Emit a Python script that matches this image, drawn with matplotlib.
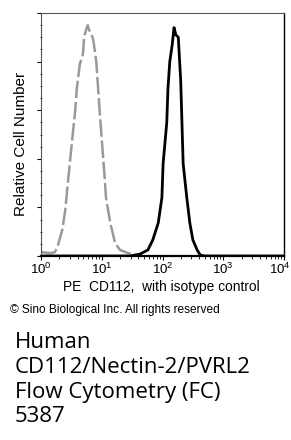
import numpy as np
import matplotlib
matplotlib.use('Agg')
import matplotlib.pyplot as plt
from matplotlib.ticker import LogLocator, MultipleLocator, NullFormatter

plt.rcParams['font.family'] = ['Liberation Sans', 'DejaVu Sans']
plt.rcParams['mathtext.fontset'] = 'custom'
plt.rcParams['mathtext.rm'] = 'Liberation Sans'
plt.rcParams['mathtext.it'] = 'Liberation Sans'

# isotype control (grey dashed): log10 fluorescence vs relative count
isoLog = [0.00, 0.15, 0.23, 0.28, 0.35, 0.40, 0.43, 0.48, 0.53, 0.56, 0.59, 0.64,
          0.69, 0.71, 0.74, 0.77, 0.79, 0.82, 0.86, 0.91, 0.94, 0.97, 1.00, 1.04,
          1.07, 1.14, 1.22, 1.30, 1.43, 1.55, 1.66]
isoVal = [1.6, 1.2, 1.6, 4.5, 10.7, 19, 27, 39.5, 52, 59, 69, 79,
          83, 90, 93, 95, 93, 92, 89, 80, 69, 58, 48, 35,
          24, 13.6, 5.3, 2.5, 1.2, 0.4, 0.0]
# CD112 stained (black solid)
cdLog = [0.00, 1.47, 1.63, 1.76, 1.84, 1.93, 1.99, 2.01, 2.06, 2.07, 2.09, 2.12,
         2.16, 2.19, 2.22, 2.26, 2.30, 2.32, 2.34, 2.40, 2.45, 2.50, 2.57, 2.62,
         2.70, 4.00]
cdVal = [0.0, 0.0, 0.8, 2.5, 6.6, 13.6, 24, 38, 52, 55, 69, 80,
         87, 94, 91, 90, 72, 55, 38, 24, 13.6, 6.6, 2.5, 0.4,
         0.0, 0.0]
xticks = [1, 10, 100, 1000, 10000]
xtickLabels = ['$10^0$', '$10^1$', '$10^2$', '$10^3$', '$10^4$']

fig = plt.figure(figsize=(2.91, 4.40), dpi=100)
ax = fig.add_axes([41/291., 1-256/440., 243/291., 243/440.])

ax.plot(10**np.array(isoLog), isoVal, color='#999999', lw=1.8, ls=(0, (7, 1.5)))
ax.plot(10**np.array(cdLog), cdVal, color='black', lw=2.0)

ax.set_xscale('log')
ax.set_xlim(1, 1e4)
ax.set_ylim(0, 100)
ax.xaxis.set_minor_locator(LogLocator(base=10, subs=np.arange(2, 10), numticks=10))
ax.xaxis.set_minor_formatter(NullFormatter())
ax.set_xticks(xticks)
#last label is drawn by hand, pulled in a bit so it stays on the canvas
ax.set_xticklabels(xtickLabels[:-1] + [''], fontsize=9.5)
ax.annotate(xtickLabels[-1], xy=(xticks[-1], 0), xycoords=('data', 'axes fraction'),
            xytext=(-3, -4), textcoords='offset points', ha='center', va='top',
            fontsize=9.5, annotation_clip=False)
ax.yaxis.set_major_locator(MultipleLocator(20))
ax.yaxis.set_minor_locator(MultipleLocator(5))
ax.set_yticklabels([])
ax.tick_params(axis='x', which='major', direction='out', length=3, pad=1)
ax.tick_params(axis='x', which='minor', direction='out', length=2)
ax.tick_params(axis='y', which='major', direction='out', length=3)
ax.tick_params(axis='y', which='minor', direction='inout', length=2)
for s in ['top', 'left']:
    ax.spines[s].set_color('#555555')
    ax.spines[s].set_linewidth(0.8)
ax.spines['right'].set_linewidth(1.0)
ax.spines['bottom'].set_linewidth(1.6)

fig.text(161/291., 1-287/440., 'PE  CD112,  with isotype control', fontsize=9.9,
         ha='center', va='center')
fig.text(21/291., 1-143.5/440., 'Relative Cell Number', fontsize=11,
         rotation=90, ha='center', va='center')
fig.text(10/291., 1-310/440., '\u00a9 Sino Biological Inc. All rights reserved',
         fontsize=8.6, ha='left', va='center')

lines = ['Human', 'CD112/Nectin-2/PVRL2', 'Flow Cytometry (FC)', '5387']
ys = [342, 367, 392, 416]
for t, y in zip(lines, ys):
    fig.text(15/291., 1-y/440., t, fontsize=16, family='Open Sans',
             ha='left', va='center')

fig.savefig('out.png', dpi=100)
